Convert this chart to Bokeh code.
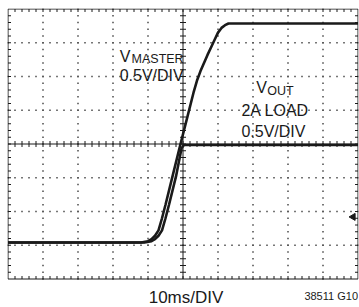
import numpy as np
from bokeh.plotting import figure
from bokeh.models import Range1d, Label
from bokeh.embed import file_html
from bokeh.resources import INLINE

# ---- data (time in ms, voltage in V; 10ms/DIV, 0.5V/DIV) ----
t_master = [0, 38, 40, 41, 42, 43, 44, 45, 47, 49, 51, 53, 54, 55, 56, 57, 58, 59, 60, 61, 62, 63, 100]
v_master = [0.04, 0.04, 0.06, 0.09, 0.14, 0.22, 0.40, 0.60, 1.02, 1.44, 1.85, 2.26, 2.44, 2.58, 2.70, 2.82, 2.93, 3.04, 3.15, 3.22, 3.26, 3.285, 3.285]
t_out = [0, 39, 41, 42, 43, 44, 45, 46, 48, 49.6, 50.3, 100]
v_out = [0.04, 0.04, 0.06, 0.09, 0.14, 0.22, 0.40, 0.60, 1.02, 1.44, 1.485, 1.485]
marker_t = [98.6]
marker_v = [0.42]

X0, X1 = 0.0, 100.0      # 10 divisions of 10 ms
Y0, Y1 = -0.5, 3.5       # 8 divisions of 0.5 V
XDIV, YDIV = 10.0, 0.5
PXX, PXY = 3.5, 67.5     # pixels per unit
BOTTOM_PX = 28

p = figure(width=359, height=307,
           x_range=Range1d(X0 - 0.5 / PXX, X1 + 0.5 / PXX),
           y_range=Range1d(Y0 - (BOTTOM_PX + 0.5) / PXY, Y1 + 0.5 / PXY),
           output_backend="svg", toolbar_location=None,
           min_border_left=7, min_border_right=1, min_border_top=8, min_border_bottom=0)
p.axis.visible = False
p.grid.visible = False
p.outline_line_color = None
p.background_fill_color = "white"
p.border_fill_color = "white"

ink = "#1a1a1a"

# dotted grid (dots at every 1/5 division)
gx = [X0 + XDIV * k for k in range(1, 10) if k != 5]
gy = [Y0 + YDIV * k for k in range(1, 8) if k != 4]
minor_y = np.arange(Y0, Y1 + 1e-9, YDIV / 5)
minor_x = np.arange(X0, X1 + 1e-9, XDIV / 5)
dx, dy = [], []
for x in gx:
    dx += [x] * len(minor_y)
    dy += list(minor_y)
for y in gy:
    dx += list(minor_x)
    dy += [y] * len(minor_x)
p.scatter(dx, dy, marker="square", size=1.6, color="#555555", line_color=None)

# border
p.quad(left=X0, right=X1, bottom=Y0, top=Y1, fill_color=None, line_color=ink, line_width=1)

# center lines
xc = (X0 + X1) / 2
yc = (Y0 + Y1) / 2
p.segment(x0=[xc, X0], y0=[Y0, yc], x1=[xc, X1], y1=[Y1, yc], line_color=ink, line_width=1)

# ticks
tl_x = 3 / PXX
tl_y = 3 / PXY
sx0, sy0, sx1, sy1 = [], [], [], []
for x in minor_x[1:-1]:
    sx0.append(x); sy0.append(yc - tl_y); sx1.append(x); sy1.append(yc + tl_y)
    sx0.append(x); sy0.append(Y0); sx1.append(x); sy1.append(Y0 + tl_y)
    sx0.append(x); sy0.append(Y1); sx1.append(x); sy1.append(Y1 - tl_y)
for y in minor_y[1:-1]:
    sx0.append(xc - tl_x); sy0.append(y); sx1.append(xc + tl_x); sy1.append(y)
    sx0.append(X0); sy0.append(y); sx1.append(X0 + tl_x); sy1.append(y)
    sx0.append(X1); sy0.append(y); sx1.append(X1 - tl_x); sy1.append(y)
p.segment(x0=sx0, y0=sy0, x1=sx1, y1=sy1, line_color=ink, line_width=1)

# traces
p.line(t_master, v_master, line_color=ink, line_width=2.6)
p.line(t_out, v_out, line_color=ink, line_width=2.6)

# ground marker
p.scatter(marker_t, marker_v, marker="triangle", angle=np.pi / 2, size=7, color=ink)

FONT = "Liberation Sans"

def lab(x, y, text, size, font=FONT, align="left"):
    p.add_layout(Label(x=x, y=y, text=text, text_font=font, text_font_size=size,
                       text_color=ink, text_baseline="alphabetic", text_align=align))

lab(31.9, 2.79, "V", "16px")
lab(35.3, 2.76, "MASTER", "12.5px")
lab(31.9, 2.51, "0.5V/DIV", "16px")
lab(70.9, 2.33, "V", "16px")
lab(74.1, 2.285, "OUT", "12.5px")
lab(66.7, 1.99, "2A LOAD", "16px")
lab(66.7, 1.68, "0.5V/DIV", "16px")
lab(40.2, -0.767, "10ms/DIV", "17px")
lab(100.0, -0.752, "38511 G10", "11px", align="right")

open("out.html", "w").write(file_html(p, INLINE))
